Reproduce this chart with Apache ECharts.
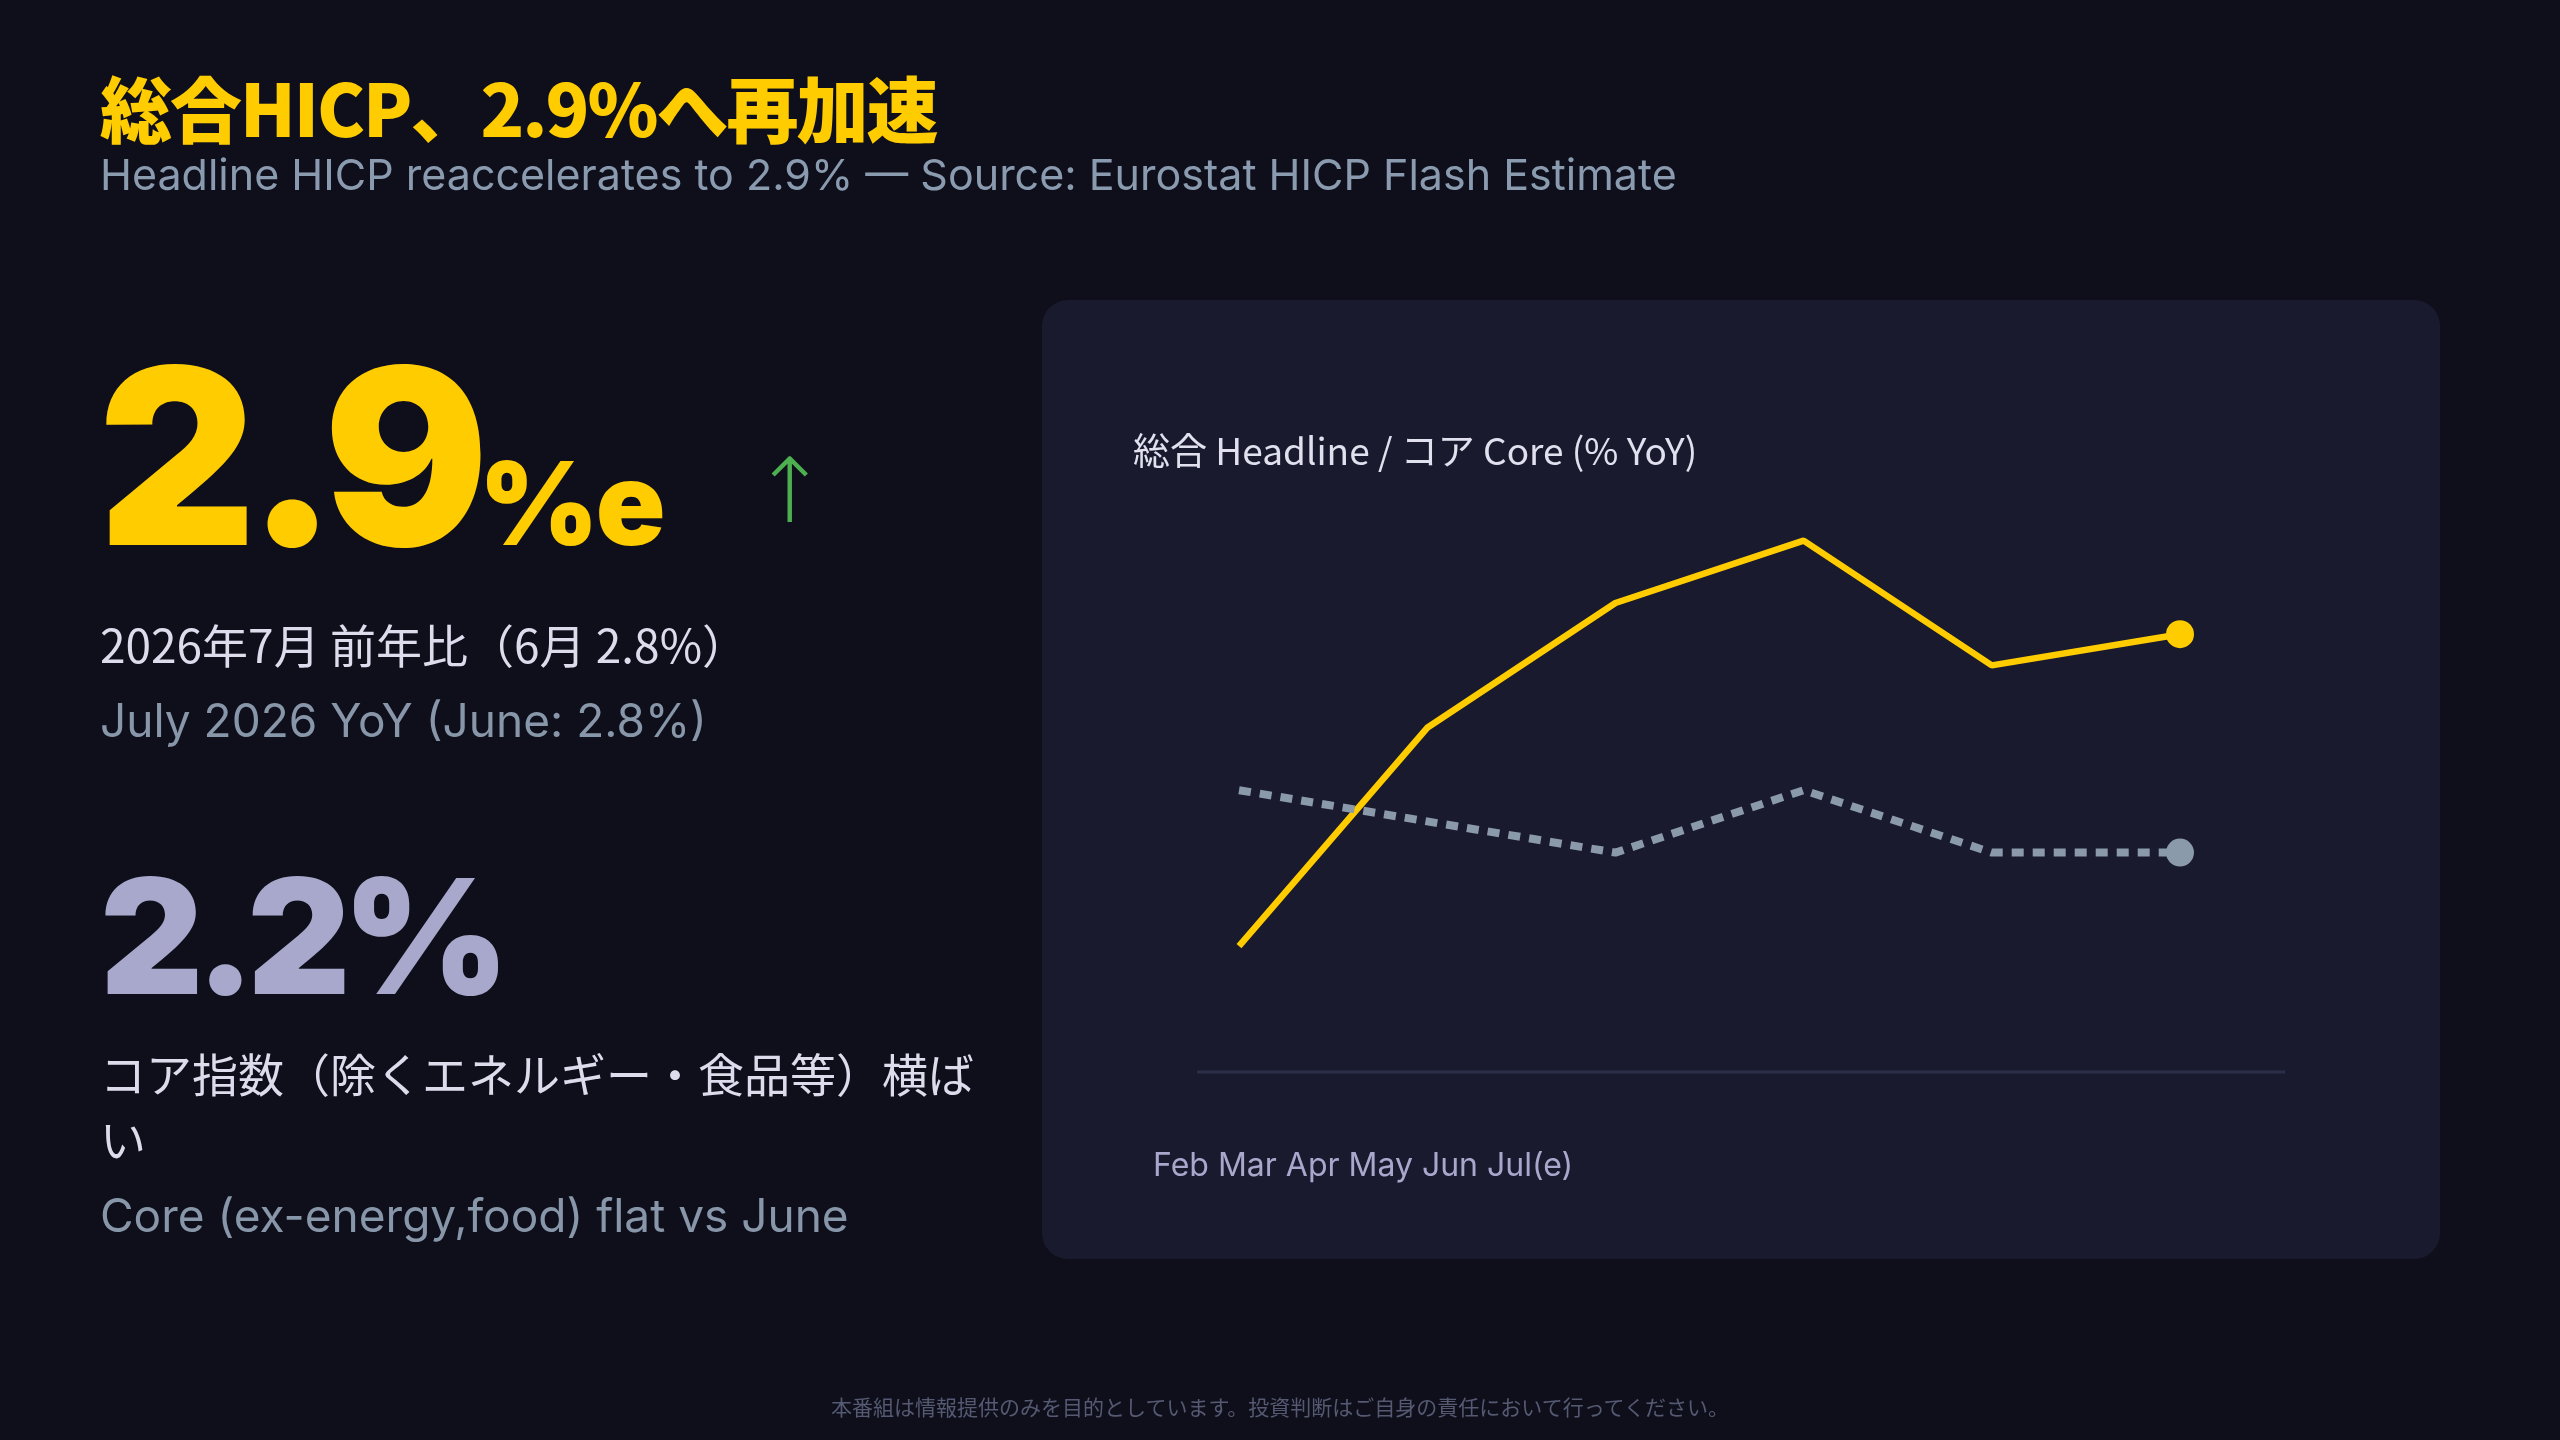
<!DOCTYPE html>
<html><head><meta charset="utf-8">
<script src="https://cdn.jsdelivr.net/npm/echarts@6/dist/echarts.min.js"></script>
<style>
html,body{margin:0;padding:0;background:#0f0f1c;width:2560px;height:1440px;overflow:hidden;font-family:Inter,"Noto Sans CJK JP",sans-serif}
.t{position:absolute;line-height:1;white-space:nowrap}
#c{position:absolute;left:0;top:0;width:2560px;height:1440px}
</style></head><body>
<div id="c"></div>
<div class="t" style="left:100px;top:70px;font-size:72px;font-weight:900;color:#ffcc00;font-family:'Noto Sans CJK JP',Inter;letter-spacing:-2px">総合HICP、2.9%へ再加速</div>
<div class="t" style="left:100px;top:153px;font-size:43px;color:#8a9bb0">Headline HICP reaccelerates to 2.9% — Source: Eurostat HICP Flash Estimate</div>
<div class="t" style="left:98px;top:334px;font-size:245px;font-weight:900;color:#ffcc00;letter-spacing:-10px">2.9<span style="font-size:115px;letter-spacing:-3px">%e</span></div>
<div class="t" style="left:752px;top:446px;font-size:90px;font-weight:100;color:#4caf50;font-family:'DejaVu Sans'">↑</div>
<div class="t" style="left:100px;top:620px;font-size:46px;color:#dcdcec;font-family:'Noto Sans CJK JP'">2026年7月 前年比（6月 2.8%）</div>
<div class="t" style="left:100px;top:697px;font-size:46px;color:#8796a8">July 2026 YoY (June: 2.8%)</div>
<div class="t" style="left:100px;top:856px;font-size:160px;font-weight:900;color:#a8a8cc;letter-spacing:-8px">2.2%</div>
<div class="t" style="left:100px;top:1040px;font-size:46px;color:#dcdcec;font-family:'Noto Sans CJK JP';line-height:65px;white-space:normal;width:900px">コア指数（除くエネルギー・食品等）横ばい</div>
<div class="t" style="left:100px;top:1192px;font-size:46px;color:#8796a8">Core (ex-energy,food) flat vs June</div>
<div class="t" style="left:0;width:2560px;text-align:center;top:1396px;font-size:21px;color:#555a72;font-family:'Noto Sans CJK JP'">本番組は情報提供のみを目的としています。投資判断はご自身の責任において行ってください。</div>
<script>
const categories = ['Feb','Mar','Apr','May','Jun','Jul(e)'];
const headline = [1.9, 2.6, 3.0, 3.2, 2.8, 2.9];
const core = [2.4, 2.3, 2.2, 2.4, 2.2, 2.2];
const chart = echarts.init(document.getElementById('c'));
const lastDot = (arr, color) => arr.map((v,i)=> i===arr.length-1 ? {value:v, symbol:'circle', symbolSize:28, itemStyle:{color}} : {value:v, symbol:'none'});
chart.setOption({
  backgroundColor:'transparent',
  animation:false,
  graphic:[
    {type:'rect', z:-10, shape:{x:1042,y:300,width:1398,height:959,r:26}, style:{fill:'#191a2e'}},
    {type:'line', shape:{x1:1197,y1:1072,x2:2285,y2:1072}, style:{stroke:'#2c2f48',lineWidth:3}},
    {type:'text', left:1133, top:432, style:{text:'総合 Headline / コア Core (% YoY)', fill:'#e0e0ee', font:'37px "Noto Sans CJK JP", Inter'}},
    {type:'text', left:1153, top:1150, style:{text:categories.join(' '), fill:'#a8a8cc', font:'32px Inter, "Noto Sans CJK JP"'}}
  ],
  grid:{left:1239,right:380,top:447,bottom:369},
  xAxis:{type:'category',data:categories,boundaryGap:false,axisLine:{show:false},axisTick:{show:false},axisLabel:{show:false},splitLine:{show:false}},
  yAxis:{type:'value',min:1.5,max:3.5,show:false,splitLine:{show:false}},
  series:[
    {type:'line',data:lastDot(headline,'#ffcc00'),lineStyle:{color:'#ffcc00',width:6.5},itemStyle:{color:'#ffcc00'}},
    {type:'line',data:lastDot(core,'#8a9aaa'),lineStyle:{color:'#8a9aaa',width:8,type:[12,9]},itemStyle:{color:'#8a9aaa'}}
  ]
});
</script>
</body></html>
